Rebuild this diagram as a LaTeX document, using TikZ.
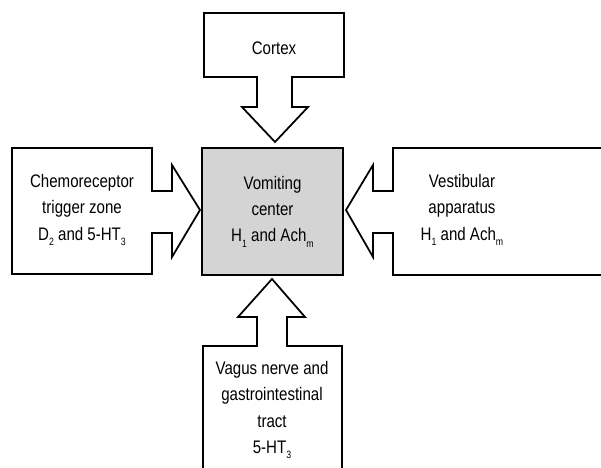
\documentclass[tikz,border=0pt]{standalone}
\usepackage{fontspec}
\setmainfont[FakeStretch=0.83]{Liberation Sans}
\usepackage{tikz}
\usetikzlibrary{positioning}
\definecolor{vcgray}{RGB}{212, 212, 212}
\newcommand{\lowidx}[1]{\raisebox{-0.55ex}{\fontsize{9}{9}\selectfont #1}}

\begin{document}
\begin{tikzpicture}[
        x=0.03cm, y=-0.03cm,
        outline/.style={draw, line width=1.5pt, line join=miter, fill=white},
        label/.style={align=center, font=\fontsize{15.5}{22.5}\selectfont, inner sep=0pt},
        centerbox/.style={draw, line width=1.5pt, fill=vcgray, minimum width=4.23cm, minimum height=3.81cm},
    ]
        \useasboundingbox (0,0) rectangle (601,467);
        \clip (0,0) rectangle (601,467);

        % Cortex box with arrow down
        \draw[outline] (204,13) -- (344,13) -- (344,77) -- (292,77) -- (292,107) -- (308,107)
            -- (275,142) -- (242,107) -- (257,107) -- (257,77) -- (204,77) -- cycle;
        \node[label] (cortex) at (274,48) {Cortex};

        % Chemoreceptor box with arrow right
        \draw[outline] (152,148) -- (12,148) -- (12,274) -- (152,274) -- (152,233) -- (172,233)
            -- (172,257) -- (200,210) -- (172,165) -- (172,191) -- (152,191) -- cycle;
        \node[label] (ctz) at (82,210) {Chemoreceptor\\trigger zone\\D\lowidx{2} and 5-HT\lowidx{3}};

        % Vestibular box with arrow left
        \draw[outline] (393,148) -- (630,148) -- (630,275) -- (393,275) -- (393,233) -- (373,233)
            -- (373,257) -- (346,210) -- (373,165) -- (373,191) -- (393,191) -- cycle;
        \node[label] (vest) at (462,210) {Vestibular\\apparatus\\H\lowidx{1} and Ach\lowidx{m}};

        % Vagus box with arrow up
        \draw[outline] (203,346) -- (257,346) -- (257,317) -- (238,317) -- (272,279) -- (305,317)
            -- (287,317) -- (287,346) -- (342,346) -- (342,490) -- (203,490) -- cycle;
        \node[label] (vagus) at (272,410) {Vagus nerve and\\gastrointestinal\\tract\\5-HT\lowidx{3}};

        % Vomiting center
        \node[centerbox] (vomit) at (272.5,211.5) {};
        \node[label] at (vomit.center) {Vomiting\\center\\H\lowidx{1} and Ach\lowidx{m}};
    \end{tikzpicture}
\end{document}
